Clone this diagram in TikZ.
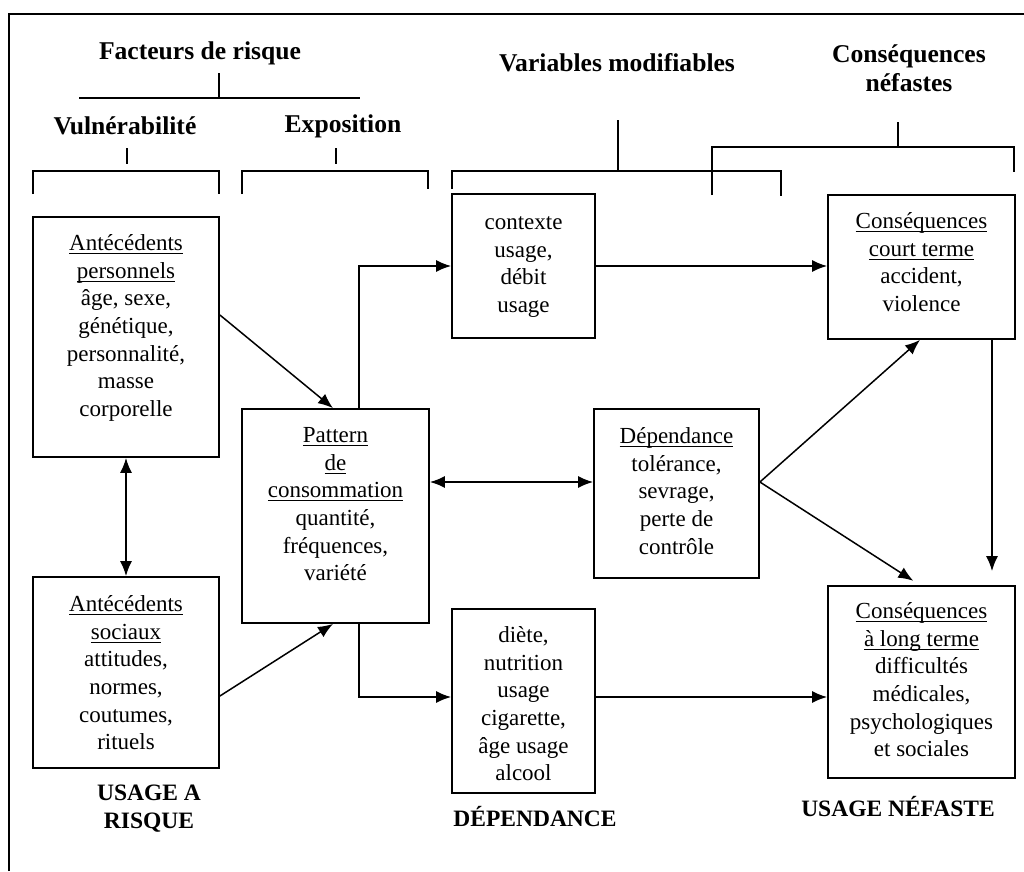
\documentclass[tikz,border=0pt]{standalone}
\usepackage{fontspec}
\setmainfont{Liberation Serif}
\usetikzlibrary{arrows.meta}
\newcommand\ulx[1]{\setbox0\hbox{#1}\rlap{\rule[-3.5pt]{\wd0}{1.1pt}}\box0}
\begin{document}
\begin{tikzpicture}[x=1pt,y=-1pt,
  box/.style={draw, line width=1.8pt, inner sep=0pt},
  txt/.style={align=center, inner sep=0pt, anchor=north, font=\fontsize{23}{27.6}\selectfont},
  hdr/.style={align=center, inner sep=0pt, font=\fontsize{25.6}{29}\selectfont\bfseries},
  lbl/.style={align=center, inner sep=0pt, font=\fontsize{23.5}{28}\selectfont\bfseries},
  brk/.style={line width=1.8pt},
  arr/.style={-{Latex[length=15pt,width=12pt]}, line width=1.5pt},
  darr/.style={{Latex[length=15pt,width=12pt]}-{Latex[length=15pt,width=12pt]}, line width=1.5pt}]
\useasboundingbox (0,0) rectangle (1024,871);
% frame
\draw[line width=1.8pt] (9,871) -- (9,14) -- (1024,14);

% headers
\node[hdr] (hFR) at (200,53) {Facteurs de risque};
\node[hdr] (hV) at (125,126) {Vulnérabilité};
\node[hdr] (hE) at (343,126) {Exposition};
\node[hdr] (hVM) at (617,63) {Variables modifiables};
\node[hdr] (hCN) at (909,68) {Conséquences\\néfastes};

% brackets
\draw[brk] (219,73) -- (219,98);
\draw[brk] (79,98) -- (360,98);
\draw[brk] (127,148) -- (127,164);
\draw[brk] (336,148) -- (336,164);
\draw[brk] (33,194) -- (33,171) -- (219,171) -- (219,194);
\draw[brk] (242,194) -- (242,171) -- (428,171) -- (428,189);
\draw[brk] (618,120) -- (618,171);
\draw[brk] (452,189) -- (452,171) -- (781,171) -- (781,196);
\draw[brk] (898,122) -- (898,147);
\draw[brk] (712,195) -- (712,147) -- (1014,147) -- (1014,172);

% boxes
\node[box, minimum width=186pt, minimum height=240pt] (AP) at (126,337) {};
\node[box, minimum width=186pt, minimum height=191pt] (AS) at (126,672.5) {};
\node[box, minimum width=187pt, minimum height=214pt] (PC) at (335.5,516) {};
\node[box, minimum width=143pt, minimum height=144pt] (CX) at (523.5,266) {};
\node[box, minimum width=165pt, minimum height=169pt] (DP) at (676.5,493.5) {};
\node[box, minimum width=143pt, minimum height=184pt] (DI) at (523.5,701) {};
\node[box, minimum width=187pt, minimum height=144pt] (CC) at (921.5,267) {};
\node[box, minimum width=187pt, minimum height=192pt] (CL) at (921.5,682) {};

% box texts
\node[txt] (APt) at ([yshift=-15pt]AP.north) {\strut\ulx{Antécédents}\\\ulx{personnels}\\âge, sexe,\\génétique,\\personnalité,\\masse\\corporelle};
\node[txt] (ASt) at ([yshift=-16pt]AS.north) {\strut\ulx{Antécédents}\\\ulx{sociaux}\\attitudes,\\normes,\\coutumes,\\rituels};
\node[txt] (PCt) at ([yshift=-15pt]PC.north) {\strut\ulx{Pattern}\\\ulx{de}\\\ulx{consommation}\\quantité,\\fréquences,\\variété};
\node[txt] (CXt) at ([yshift=-17pt]CX.north) {\strut contexte\\usage,\\débit\\usage};
\node[txt] (DPt) at ([yshift=-16pt]DP.north) {\strut\ulx{Dépendance}\\tolérance,\\sevrage,\\perte de\\contrôle};
\node[txt] (DIt) at ([yshift=-15pt]DI.north) {\strut diète,\\nutrition\\usage\\cigarette,\\âge usage\\alcool};
\node[txt] (CCt) at ([yshift=-15pt]CC.north) {\strut\ulx{Conséquences}\\\ulx{court terme}\\accident,\\violence};
\node[txt] (CLt) at ([yshift=-14pt]CL.north) {\strut\ulx{Conséquences}\\\ulx{à long terme}\\difficultés\\médicales,\\psychologiques\\et sociales};

% bottom labels
\node[lbl] (L1) at (149,809) {USAGE A\\RISQUE};
\node[lbl] (L2) at (535,817) {DÉPENDANCE};
\node[lbl] (L3) at (898,807) {USAGE NÉFASTE};

% connectors
\draw[arr] ([yshift=22pt]AP.east) -- ([xshift=-2.5pt]PC.north);
\draw[arr] ([yshift=-23.5pt]AS.east) -- ([xshift=-2.5pt]PC.south);
\draw[darr] (AP.south) -- (AS.north);
\draw[arr] ([xshift=23.5pt]PC.north) |- (CX.west);
\draw[arr] ([xshift=23.5pt]PC.south) |- ([yshift=4pt]DI.west);
\draw[darr] ([yshift=34pt]PC.east) -- ([yshift=11.5pt]DP.west);
\draw[arr] (CX.east) -- (CX.east -| CC.west);
\draw[arr] ([yshift=11.5pt]DP.east) -- ([xshift=-1.5pt]CC.south);
\draw[arr, shorten >=8pt] ([yshift=11.5pt]DP.east) -- ([xshift=-1.5pt]CL.north);
\draw[arr, shorten >=14pt] ([xshift=70.5pt]CC.south) -- ([xshift=70.5pt]CL.north);
\draw[arr] ([yshift=4pt]DI.east) -- ([yshift=4pt]DI.east -| CL.west);
\end{tikzpicture}
\end{document}
